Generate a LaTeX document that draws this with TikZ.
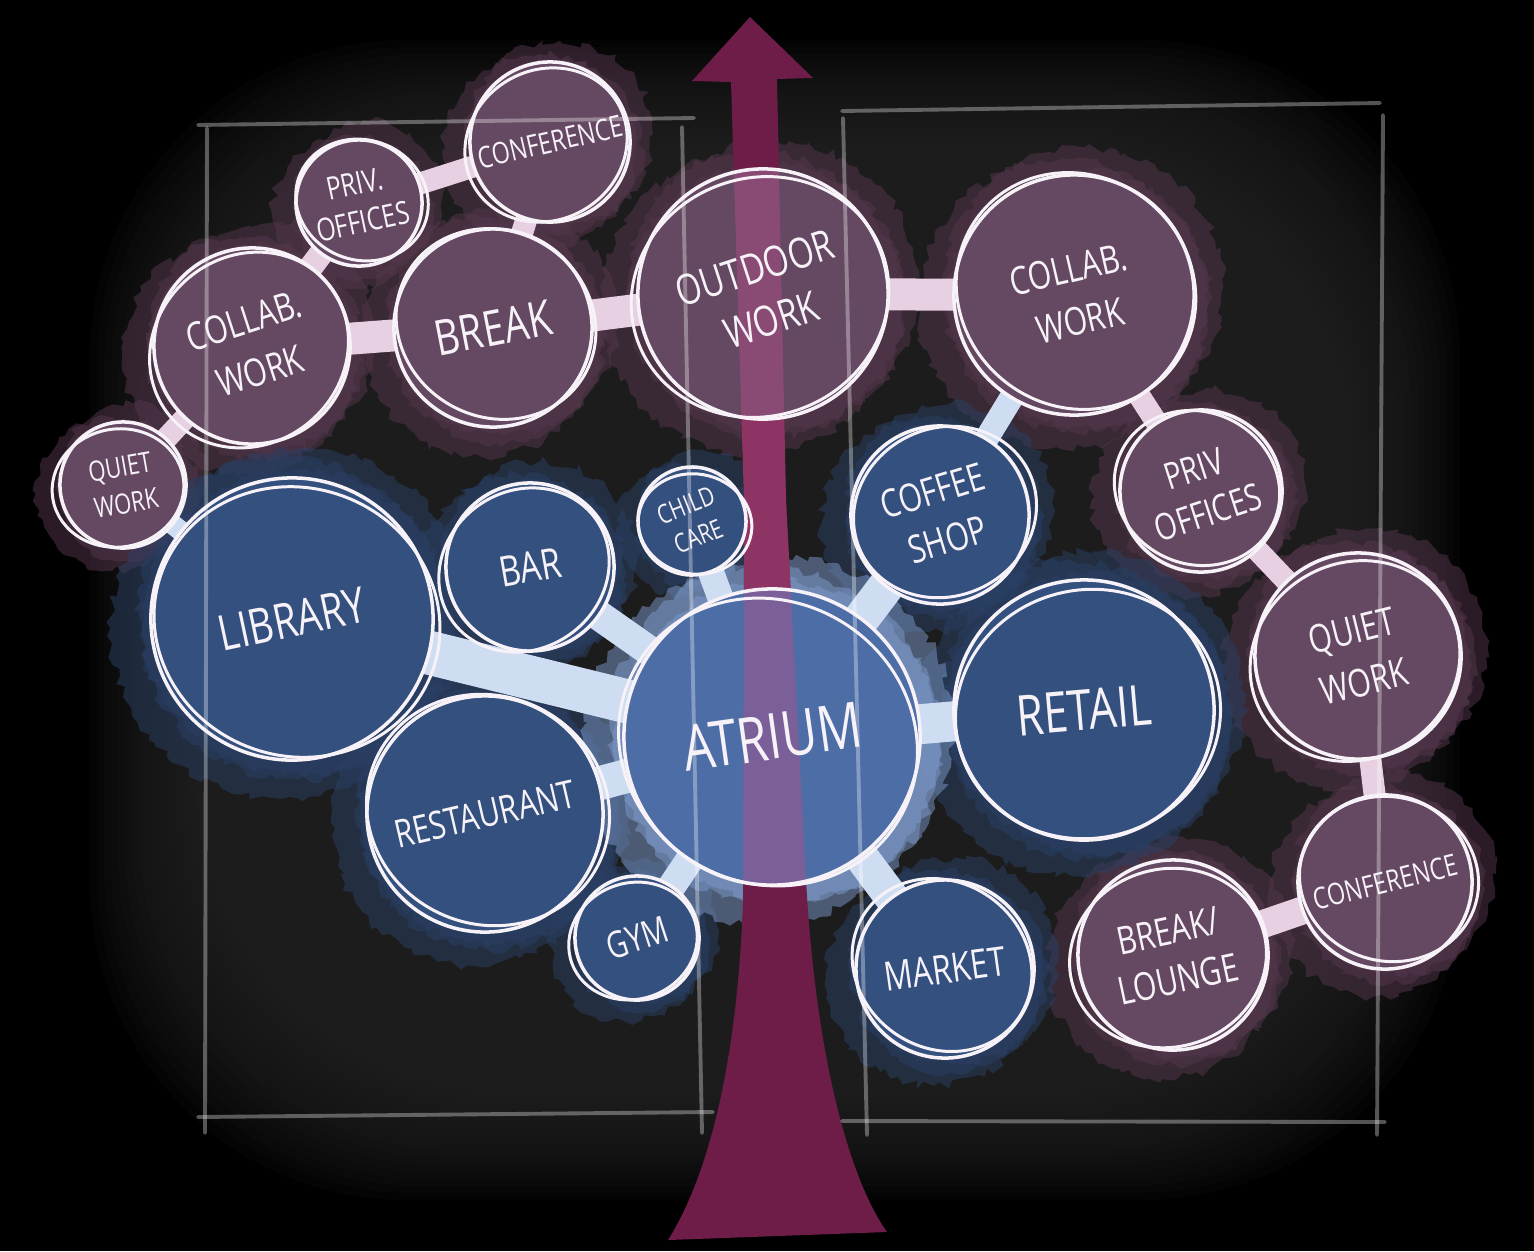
\documentclass[tikz,border=0pt]{standalone}
\usepackage{fontspec}
\newfontfamily\handfont[FakeStretch=0.78]{Open Sans}
\usetikzlibrary{calc,decorations.pathmorphing}
\definecolor{bgmid}{HTML}{252525}
\definecolor{plum}{HTML}{654862}
\definecolor{plumhalo}{HTML}{54374D}
\definecolor{navy}{HTML}{34507E}
\definecolor{navyhalo}{HTML}{2A4066}
\definecolor{atriumblue}{HTML}{4C6DA6}
\definecolor{atriumhalo}{HTML}{7D9ACB}
\definecolor{pinklink}{HTML}{E6D0E2}
\definecolor{bluelink}{HTML}{CFDDF2}
\definecolor{trunk}{HTML}{6D1D47}
\definecolor{trunklight}{HTML}{B5508A}
\definecolor{chalk}{HTML}{F6F2F8}
\pgfdeclarelayer{glow}
\pgfdeclarelayer{halo}
\pgfdeclarelayer{link}
\pgfdeclarelayer{disc}
\pgfdeclarelayer{over}
\pgfsetlayers{glow,halo,link,disc,over,main}
\newcommand{\hf}[2]{\handfont\fontsize{#1}{#2}\selectfont}
\newcommand{\trunkpath}{(750,17) -- (813,78) -- (777,79) -- (786,500) -- (806,880) .. controls (816,1060) and (850,1180) .. (887,1232) -- (668,1240) .. controls (712,1170) and (738,1050) .. (743,900) -- (744,500) -- (731,82) -- (692,81) -- cycle}

\begin{document}
\begin{tikzpicture}[x=0.01cm,y=-0.01cm]
\tikzset{bub/.style={circle,draw=chalk,line width=1pt,inner sep=0pt,outer sep=0pt,text=chalk,align=center}, ring/.style={draw=chalk,line width=.85pt}, frame/.style={white,opacity=.33,line width=1.1pt,line cap=round}, pinkneck/.style={pinklink,line width=#1*0.01cm}, blueneck/.style={bluelink,line width=#1*0.01cm}}
\pgfmathsetseed{11}
\useasboundingbox (0,0) rectangle (1534,1251);

% backdrop
\begin{pgfonlayer}{glow}
\fill[black] (0,0) rectangle (1534,1251);
\foreach \k in {0,...,23}
  \fill[bgmid,opacity=.11,rounded corners=90pt] (90+7*\k,40+7*\k) rectangle (1460-7*\k,1200-7*\k);
\end{pgfonlayer}

% bubbles
\node[bub,minimum size=1.60cm,rotate=13,font={\hf{8.5}{10}}] (confT) at (550,142) {CONFERENCE};
\node[bub,minimum size=1.26cm,rotate=12,font={\hf{9}{11}}] (privT) at (359,203) {PRIV.\\OFFICES};
\node[bub,minimum size=1.96cm,rotate=18,font={\hf{11}{15}}] (collabL) at (252,346) {COLLAB.\\WORK};
\node[bub,minimum size=1.98cm,rotate=11,font={\hf{14}{16}}] (brk) at (493,328) {BREAK};
\node[bub,minimum size=2.50cm,rotate=18,font={\hf{12}{15.5}}] (outdoor) at (763,294) {OUTDOOR\\WORK};
\node[bub,minimum size=2.40cm,rotate=13,font={\hf{11}{15}}] (collabR) at (1074,295) {COLLAB.\\WORK};
\node[bub,minimum size=1.26cm,rotate=10,font={\hf{8}{10.5}}] (quietL) at (123,485) {QUIET\\WORK};
\node[bub,minimum size=1.62cm,rotate=18,font={\hf{10.5}{13}}] (privR) at (1201,491) {PRIV\\OFFICES};
\node[bub,minimum size=2.06cm,rotate=14,font={\hf{11}{15}}] (quietR) at (1358,656) {QUIET\\WORK};
\node[bub,minimum size=1.74cm,rotate=14,font={\hf{8.5}{10}}] (confR) at (1385,882) {CONFERENCE};
\node[bub,minimum size=1.90cm,rotate=12,font={\hf{11}{14}}] (lounge) at (1173,955) {BREAK/\\LOUNGE};
\node[bub,minimum size=2.82cm,rotate=12,font={\hf{14}{16}}] (library) at (292,619) {LIBRARY};
\node[bub,minimum size=1.68cm,rotate=10,font={\hf{12}{14}}] (bar) at (530,567) {BAR};
\node[bub,minimum size=1.08cm,rotate=22,font={\hf{7.5}{9.5}}] (child) at (692,521) {CHILD\\CARE};
\node[bub,minimum size=1.78cm,rotate=17,font={\hf{11}{14.5}}] (coffee) at (940,515) {COFFEE\\SHOP};
\node[bub,minimum size=2.96cm,rotate=8,font={\hf{18}{20}}] (atrium) at (772,737) {ATRIUM};
\node[bub,minimum size=2.60cm,rotate=5,font={\hf{16}{18}}] (retail) at (1084,710) {RETAIL};
\node[bub,minimum size=2.36cm,rotate=13,font={\hf{11}{13}}] (restaurant) at (485,814) {RESTAURANT};
\node[bub,minimum size=1.24cm,rotate=18,font={\hf{10.5}{12}}] (gym) at (637,938) {GYM};
\node[bub,minimum size=1.78cm,rotate=8,font={\hf{11.5}{13}}] (market) at (945,969) {MARKET};

% watercolour halos
\begin{pgfonlayer}{halo}
\foreach \nm/\hc in {confT/plumhalo,privT/plumhalo,collabL/plumhalo,brk/plumhalo,outdoor/plumhalo,collabR/plumhalo,quietL/plumhalo,privR/plumhalo,quietR/plumhalo,confR/plumhalo,lounge/plumhalo,library/navyhalo,bar/navyhalo,child/navyhalo,coffee/navyhalo,retail/navyhalo,restaurant/navyhalo,gym/navyhalo,market/navyhalo,atrium/atriumhalo}{
  \foreach \s/\ox/\oy in {1.21/-11/9,1.16/10/-8,1.10/4/6}{
    \fill[\hc,opacity=.5,decorate,decoration={random steps,segment length=2pt,amplitude=1.3pt}]
      let \p1=($(\nm.east)-(\nm.center)$), \n1={veclen(\x1,\y1)} in
      ($(\nm.center)+(\ox,\oy)$) circle[radius=\n1*\s];
  }
}
\end{pgfonlayer}

% trunk and necks between bubbles
\begin{pgfonlayer}{link}
\fill[trunk] \trunkpath;
\foreach \a/\b/\w in {collabL/privT/24,collabL/brk/32,privT/confT/22,brk/confT/22,brk/outdoor/32,outdoor/collabR/32,collabL/quietL/22,collabR/privR/22,privR/quietR/22,quietR/confR/22,confR/lounge/28}
  \draw[pinkneck=\w] (\a.center) -- (\b.center);
\foreach \a/\b/\w in {quietL/library/20,library/atrium/44,bar/atrium/30,child/atrium/26,coffee/atrium/36,retail/atrium/40,restaurant/atrium/34,gym/atrium/28,market/atrium/34,coffee/collabR/24}
  \draw[blueneck=\w] (\a.center) -- (\b.center);
\end{pgfonlayer}

% bubble fills
\begin{pgfonlayer}{disc}
\foreach \nm/\fc in {confT/plum,privT/plum,collabL/plum,brk/plum,outdoor/plum,collabR/plum,quietL/plum,privR/plum,quietR/plum,confR/plum,lounge/plum,library/navy,bar/navy,child/navy,coffee/navy,retail/navy,restaurant/navy,gym/navy,market/navy,atrium/atriumblue}{
  \fill[\fc] let \p1=($(\nm.east)-(\nm.center)$), \n1={veclen(\x1,\y1)} in (\nm.center) circle[radius=\n1];
}
\end{pgfonlayer}

% trunk seen through the bubbles, and the two frames
\begin{pgfonlayer}{over}
\begin{scope}
\clip (outdoor.center) circle[radius=1.25cm] (atrium.center) circle[radius=1.48cm] (700,410) rectangle (840,600);
\fill[trunklight,opacity=.45] \trunkpath;
\end{scope}
\draw[frame] (198,125) -- (694,118);
\draw[frame] (207,128) -- (205,1133);
\draw[frame] (682,127) -- (702,1133);
\draw[frame] (198,1117) -- (713,1112);
\draw[frame] (842,111) -- (1380,103);
\draw[frame] (843,118) -- (867,1135);
\draw[frame] (1383,115) -- (1377,1135);
\draw[frame] (842,1121) -- (1385,1122);
\end{pgfonlayer}

% sketchy second rings
\foreach \nm/\dx/\dy/\ra/\rb/\ang in {confT/-4/3/3/-5/30,privT/3/-3/4/-3/-20,collabL/-3/4/5/-4/40,brk/3/-4/3/-6/-30,outdoor/-3/3/5/-6/20,collabR/2/-4/3/-5/-40,quietL/-5/3/3/-4/10,privR/-4/-3/3/-5/-25,quietR/-3/5/4/-5/30,confR/4/-3/3/-5/-15,lounge/-5/3/4/-6/15,library/5/3/3/-7/-20,bar/-6/3/4/-5/35,child/3/3/3/-4/-10,coffee/5/-3/4/-5/25,atrium/-4/5/4/-7/-30,retail/4/4/3/-6/15,restaurant/3/-4/5/-4/-25,gym/-4/3/3/-4/20,market/-3/-4/4/-6/-35}{
  \draw[ring] let \p1=($(\nm.east)-(\nm.center)$), \n1={veclen(\x1,\y1)} in
    ($(\nm.center)+(\dx,\dy)$) ellipse[x radius=\n1+(\ra)*0.01cm, y radius=\n1+(\rb)*0.01cm, rotate=\ang];
}
\end{tikzpicture}
\end{document}
